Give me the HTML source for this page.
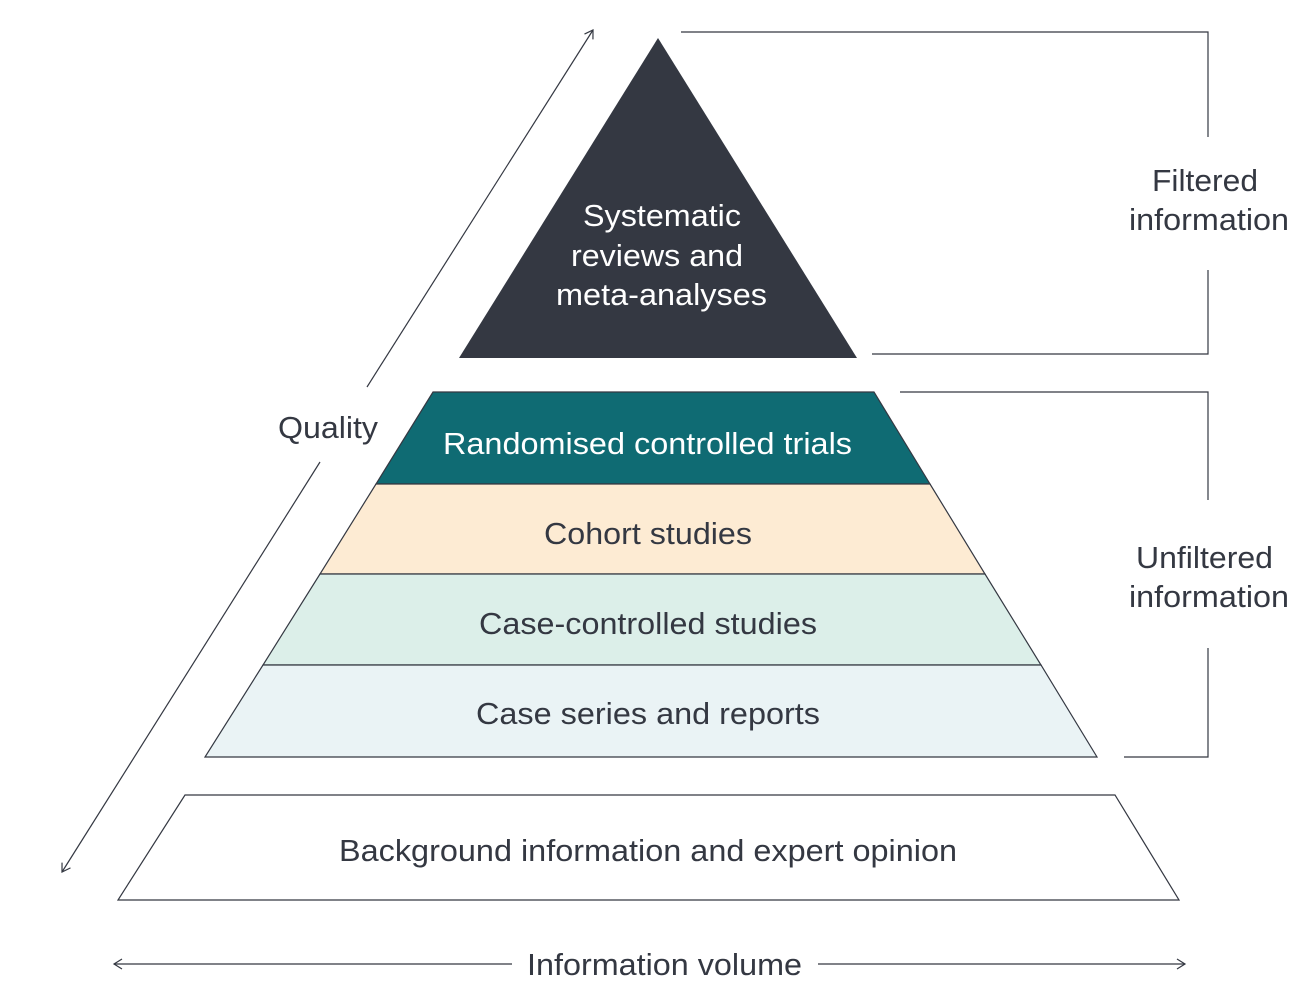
<!DOCTYPE html>
<html><head><meta charset="utf-8"><style>
html,body{margin:0;padding:0;background:#fff;}
svg text{font-family:"Liberation Sans",Arial,Helvetica,sans-serif;font-size:31px;fill:#343842;}
</style></head><body>
<svg width="1312" height="996" viewBox="0 0 1312 996" xmlns="http://www.w3.org/2000/svg">
<defs><marker id="a" markerWidth="12" markerHeight="12" refX="10" refY="6" orient="auto" markerUnits="userSpaceOnUse"><path d="M2,1 L10,6 L2,11" fill="none" stroke="#343842" stroke-width="1.2"/></marker></defs>
<polygon points="658,38 857,358 459,358" fill="#343842"/>
<text x="583" y="226" textLength="158" lengthAdjust="spacingAndGlyphs" style="fill:#fff">Systematic</text>
<text x="571" y="266" textLength="172" lengthAdjust="spacingAndGlyphs" style="fill:#fff">reviews and</text>
<text x="556" y="305" textLength="211" lengthAdjust="spacingAndGlyphs" style="fill:#fff">meta-analyses</text>
<g stroke="#343842" stroke-width="1.2">
<polygon points="433,392 874,392 930,484 376,484" fill="#0f6b73"/>
<polygon points="376,484 930,484 985,574 320,574" fill="#fdebd3"/>
<polygon points="320,574 985,574 1041,665 263,665" fill="#dcefe9"/>
<polygon points="263,665 1041,665 1097,757 205,757" fill="#eaf3f5"/>
<polygon points="185,795 1115,795 1179,900 118,900" fill="#fff"/>
</g>
<text x="443" y="454" textLength="409" lengthAdjust="spacingAndGlyphs" style="fill:#fff">Randomised controlled trials</text>
<text x="544" y="544" textLength="208" lengthAdjust="spacingAndGlyphs">Cohort studies</text>
<text x="479" y="634" textLength="338" lengthAdjust="spacingAndGlyphs">Case-controlled studies</text>
<text x="476" y="724" textLength="344" lengthAdjust="spacingAndGlyphs">Case series and reports</text>
<text x="339" y="861" textLength="618" lengthAdjust="spacingAndGlyphs">Background information and expert opinion</text>
<g stroke="#343842" stroke-width="1.2" fill="none">
<line x1="367" y1="387" x2="593" y2="30" marker-end="url(#a)"/>
<line x1="320" y1="462" x2="62" y2="872" marker-end="url(#a)"/>
<polyline points="681,32 1208,32 1208,137"/>
<polyline points="1208,270 1208,354 872,354"/>
<polyline points="900,392 1208,392 1208,500"/>
<polyline points="1208,648 1208,757 1124,757"/>
<line x1="512" y1="964" x2="114" y2="964" marker-end="url(#a)"/>
<line x1="818" y1="964" x2="1185" y2="964" marker-end="url(#a)"/>
</g>
<text x="278" y="438" textLength="100" lengthAdjust="spacingAndGlyphs">Quality</text>
<text x="1152" y="191" textLength="106" lengthAdjust="spacingAndGlyphs">Filtered</text>
<text x="1129" y="230" textLength="160" lengthAdjust="spacingAndGlyphs">information</text>
<text x="1136" y="568" textLength="137" lengthAdjust="spacingAndGlyphs">Unfiltered</text>
<text x="1129" y="607" textLength="160" lengthAdjust="spacingAndGlyphs">information</text>
<text x="527" y="975" textLength="275" lengthAdjust="spacingAndGlyphs">Information volume</text>
</svg>
</body></html>
